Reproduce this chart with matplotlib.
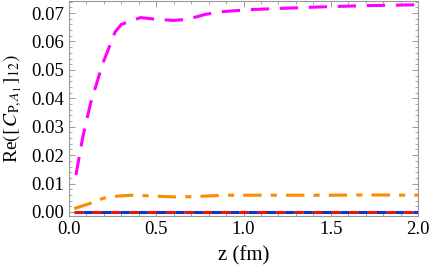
import matplotlib
matplotlib.use("Agg")
import matplotlib.pyplot as plt
from matplotlib.ticker import MultipleLocator

plt.rcParams['font.family'] = ['Liberation Serif', 'DejaVu Serif']
plt.rcParams['mathtext.fontset'] = 'stix'

z_mag = [0.040, 0.078, 0.124, 0.193, 0.240, 0.264, 0.30, 0.41, 0.50, 0.60, 0.68, 0.78, 0.88, 1.04, 1.20, 1.42, 1.70, 2.00]
v_mag = [0.0130, 0.0260, 0.0383, 0.0521, 0.0595, 0.0633, 0.0660, 0.0684, 0.0678, 0.0674, 0.0678, 0.0695, 0.0705, 0.0712, 0.0716, 0.0721, 0.0726, 0.0729]

z_org = [0.03, 0.12, 0.20, 0.28, 0.36, 0.45, 0.60, 0.70, 0.90, 1.20, 1.50, 1.70, 2.00]
v_org = [0.0012, 0.0030, 0.0049, 0.0056, 0.0059, 0.0057, 0.0053, 0.0054, 0.0059, 0.0059, 0.0059, 0.0060, 0.0059]

z_zero = [0.03, 2.0]
v_zero = [0.0, 0.0]

fig = plt.figure(figsize=(4.31, 2.72), dpi=100)
ax = fig.add_axes([0.160, 0.206, 0.810, 0.790])

ax.plot(z_zero, v_zero, color='#00cc00', lw=1.0, zorder=2)
ax.plot(z_zero, v_zero, color='#00cccc', lw=1.0, zorder=2)
ax.plot(z_zero, v_zero, color='#ee1111', lw=2.2, linestyle=(0, (3, 3)), zorder=3)
ax.plot(z_zero, v_zero, color='#1133cc', lw=2.2, linestyle=(3, (3, 3)), zorder=3)
ax.plot(z_org, v_org, color='#ff8800', lw=2.2, dashes=(6, 3, 2, 3), zorder=4)
ax.plot(z_mag, v_mag, color='#ff00ff', lw=2.2, dashes=(6, 3.5), zorder=5)

ax.set_xlim(0, 2.0)
ax.set_ylim(-0.0014, 0.0742)
ax.xaxis.set_major_locator(MultipleLocator(0.5))
ax.xaxis.set_minor_locator(MultipleLocator(0.1))
ax.yaxis.set_major_locator(MultipleLocator(0.01))
ax.yaxis.set_minor_locator(MultipleLocator(0.002))
ax.xaxis.set_major_formatter(plt.FuncFormatter(lambda v, p: f"{v:.1f}"))
ax.yaxis.set_major_formatter(plt.FuncFormatter(lambda v, p: f"{v:.2f}"))

for s in ax.spines.values():
    s.set_color('#999999')
    s.set_linewidth(0.8)
ax.tick_params(which='both', direction='in', top=True, right=True, color='#999999', labelsize=13.5, labelcolor='black')
ax.tick_params(which='major', length=4, width=0.7)
ax.tick_params(which='minor', length=2, width=0.6)

ax.set_xlabel('z (fm)', fontsize=15)
ax.set_ylabel(r'Re$([\,C_{\mathrm{P},A_1}\,]_{12})$', fontsize=14)
ax.yaxis.set_label_coords(-0.128, 0.5)
ax.xaxis.set_label_coords(0.5, -0.142)

fig.savefig('out.png', dpi=100)
